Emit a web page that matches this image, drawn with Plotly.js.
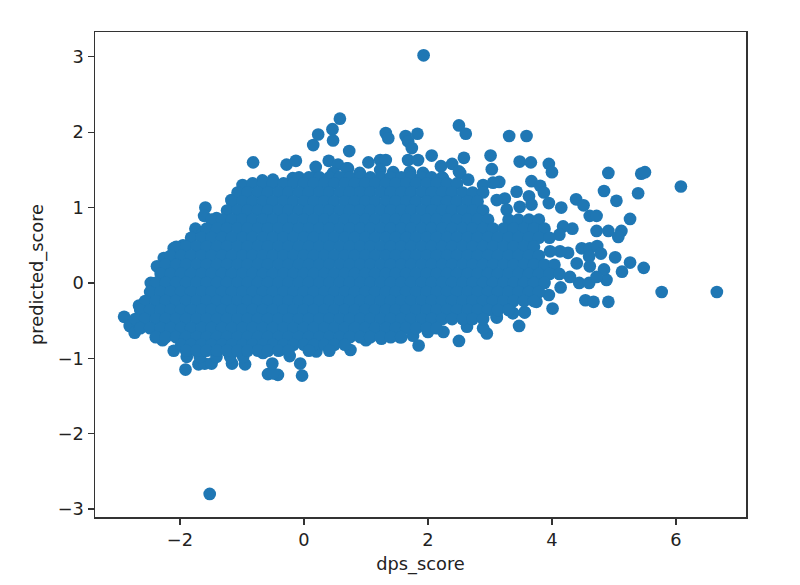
<!DOCTYPE html>
<html>
<head>
<meta charset="utf-8">
<script src="https://cdn.plot.ly/plotly-3.0.1.min.js"></script>
<style>html,body{margin:0;padding:0;background:#fff}#chart{width:800px;height:585px}</style>
</head>
<body>
<div id="chart"></div>
<script>
const xTicks = [-2,0,2,4,6];
const yTicks = [-3,-2,-1,0,1,2,3];

// Points that can be told apart around the edge of the cloud
const edgeDps = [1.93,-1.52,3.31,3.59,3.01,3.03,3.48,3.66,3.95,4.00,4.91,5.44,5.50,6.08,4.84,5.39,5.04,4.39,4.51,4.15,4.61,4.72,5.26,4.72,4.91,5.12,5.07,4.33,4.18,4.12,3.67,3.81,3.87,3.95,4.48,4.61,4.73,4.79,5.02,5.26,5.48,5.13,4.88,4.84,4.60,4.26,4.13,3.97,4.44,4.60,4.14,4.40,4.61,4.29,4.72,5.77,6.66,4.54,4.67,4.91,4.01,3.47,2.95,3.56,3.37,3.95,3.75,3.11,
0.58,0.46,0.23,0.15,0.47,0.73,1.32,1.36,1.64,1.83,1.68,1.74,2.50,2.61,2.06,2.58,-0.28,-0.13,0.19,0.40,1.04,1.23,1.32,1.68,1.84,2.21,2.39,2.50,0.55,0.71,3.15,3.24,3.43,3.63,2.89,3.05,3.11,3.27,3.48,3.67,
-0.82,-1.59,-1.61,-1.75,-0.99,-0.67,-2.10,-1.95,-2.26,-2.37,-2.47,-2.66,-2.90,-2.81,-2.73,-2.28,-2.10,-1.91,-1.70,-1.60,-1.49,-1.16,-0.95,-0.58,-0.42,-0.50,-0.03,-0.06,-0.51,-0.23,0.20,0.75,1.85,2.50,-1.89,-1.41,-0.98,-0.66,-1.68,-1.19,-0.39,
-1.17,-1.41,-1.63,-0.18,-0.50,0.20,0.47,0.69,1.23,1.44,0.90,1.71,1.92,2.24,2.52,2.65,0.15,-0.18,
2.00,2.25,2.63,2.89,3.11,3.37,3.56,1.00,1.25,1.55,1.76];
const edgePredicted = [3.02,-2.80,1.95,1.95,1.69,1.51,1.61,1.60,1.58,1.47,1.46,1.45,1.47,1.28,1.22,1.19,1.09,1.11,1.03,1.00,0.89,0.89,0.85,0.69,0.69,0.69,0.61,0.72,0.75,0.64,1.35,1.29,1.20,1.06,0.46,0.46,0.49,0.39,0.34,0.27,0.20,0.15,0.04,0.18,0.35,0.40,0.42,0.42,0.00,0.00,-0.06,0.26,0.22,0.08,0.08,-0.12,-0.12,-0.23,-0.25,-0.25,-0.34,-0.57,-0.67,-0.39,-0.40,-0.16,-0.25,-0.45,
2.18,2.04,1.97,1.83,1.89,1.75,1.99,1.92,1.95,1.98,1.88,1.79,2.09,1.98,1.69,1.66,1.57,1.62,1.54,1.62,1.60,1.63,1.63,1.63,1.63,1.55,1.58,1.48,1.57,1.52,1.34,1.12,1.21,1.15,1.30,1.33,1.10,0.97,1.01,1.04,
1.60,1.00,0.89,0.72,1.30,1.36,0.46,0.50,0.33,0.22,0.00,-0.30,-0.45,-0.57,-0.66,-0.76,-0.90,-1.15,-1.08,-1.07,-1.07,-1.07,-1.08,-1.21,-1.22,-1.20,-1.23,-1.07,-1.07,-0.97,-0.91,-0.89,-0.83,-0.77,-0.98,-0.98,-0.98,-0.93,-0.98,-0.98,-0.89,
1.10,0.86,0.66,1.37,1.37,1.37,1.46,1.52,1.50,1.47,1.46,1.47,1.46,1.39,1.46,1.37,1.39,1.39,
-0.65,-0.65,-0.58,-0.60,-0.46,-0.40,-0.39,-0.76,-0.74,-0.72,-0.70];

// Overlapping points inside the solid cloud, estimated band by band
const bandPredicted = [1.40,1.32,1.20,1.08,0.96,0.84,0.72,0.60,0.48,0.36,0.24,0.12,0,-0.12,-0.24,-0.36,-0.48,-0.60,-0.72,-0.82,-0.90];
const band00 = [-0.08,0.08,0.25,0.41,0.58,0.74,0.91,1.07,1.24,1.40,1.57,1.73,1.90,2.06,2.23];
const band01 = [-0.83,-0.66,-0.50,-0.33,-0.17,0,0.16,0.33,0.49,0.66,0.82,0.99,1.15,1.32,1.48,1.65,1.81,1.98,2.14,2.31,2.47];
const band02 = [-1.07,-0.91,-0.74,-0.58,-0.41,-0.25,-0.08,0.08,0.25,0.41,0.58,0.74,0.91,1.07,1.24,1.40,1.57,1.73,1.90,2.06,2.23,2.39,2.56,2.72,2.89];
const band03 = [-1.16,-0.99,-0.83,-0.66,-0.50,-0.33,-0.17,0,0.16,0.33,0.49,0.66,0.82,0.99,1.15,1.32,1.48,1.65,1.81,1.98,2.14,2.31,2.47,2.64,2.80];
const band04 = [-1.24,-1.07,-0.91,-0.74,-0.58,-0.41,-0.25,-0.08,0.08,0.25,0.41,0.58,0.74,0.91,1.07,1.24,1.40,1.57,1.73,1.90,2.06,2.23,2.39,2.56,2.72,2.89];
const band05 = [-1.49,-1.32,-1.16,-0.99,-0.83,-0.66,-0.50,-0.33,-0.17,0,0.16,0.33,0.49,0.66,0.82,0.99,1.15,1.32,1.48,1.65,1.81,1.98,2.14,2.31,2.47,2.64,2.80,2.97,3.30,3.46,3.63,3.79];
const band06 = [-1.57,-1.40,-1.24,-1.07,-0.91,-0.74,-0.58,-0.41,-0.25,-0.08,0.08,0.25,0.41,0.58,0.74,0.91,1.07,1.24,1.40,1.57,1.73,1.90,2.06,2.23,2.39,2.56,2.72,2.89,3.05,3.22,3.38,3.55,3.71,3.88];
const band07 = [-1.82,-1.65,-1.49,-1.32,-1.16,-0.99,-0.83,-0.66,-0.50,-0.33,-0.17,0,0.16,0.33,0.49,0.66,0.82,0.99,1.15,1.32,1.48,1.65,1.81,1.98,2.14,2.31,2.47,2.64,2.80,2.97,3.13,3.30,3.46,3.63,3.79,3.96];
const band08 = [-2.06,-1.90,-1.73,-1.57,-1.40,-1.24,-1.07,-0.91,-0.74,-0.58,-0.41,-0.25,-0.08,0.08,0.25,0.41,0.58,0.74,0.91,1.07,1.24,1.40,1.57,1.73,1.90,2.06,2.23,2.39,2.56,2.72,2.89,3.05,3.22,3.38,3.55,3.71];
const band09 = [-2.15,-1.98,-1.82,-1.65,-1.49,-1.32,-1.16,-0.99,-0.83,-0.66,-0.50,-0.33,-0.17,0,0.16,0.33,0.49,0.66,0.82,0.99,1.15,1.32,1.48,1.65,1.81,1.98,2.14,2.31,2.47,2.64,2.80,2.97,3.13,3.30,3.46,3.63,3.79];
const band10 = [-2.23,-2.06,-1.90,-1.73,-1.57,-1.40,-1.24,-1.07,-0.91,-0.74,-0.58,-0.41,-0.25,-0.08,0.08,0.25,0.41,0.58,0.74,0.91,1.07,1.24,1.40,1.57,1.73,1.90,2.06,2.23,2.39,2.56,2.72,2.89,3.05,3.22,3.38,3.55,3.71,3.88,4.04];
const band11 = [-2.31,-2.15,-1.98,-1.82,-1.65,-1.49,-1.32,-1.16,-0.99,-0.83,-0.66,-0.50,-0.33,-0.17,0,0.16,0.33,0.49,0.66,0.82,0.99,1.15,1.32,1.48,1.65,1.81,1.98,2.14,2.31,2.47,2.64,2.80,2.97,3.13,3.30,3.46,3.63,3.79,3.96,4.12];
const band12 = [-2.39,-2.23,-2.06,-1.90,-1.73,-1.57,-1.40,-1.24,-1.07,-0.91,-0.74,-0.58,-0.41,-0.25,-0.08,0.08,0.25,0.41,0.58,0.74,0.91,1.07,1.24,1.40,1.57,1.73,1.90,2.06,2.23,2.39,2.56,2.72,2.89,3.05,3.22,3.38,3.55,3.71,3.88];
const band13 = [-2.48,-2.31,-2.15,-1.98,-1.82,-1.65,-1.49,-1.32,-1.16,-0.99,-0.83,-0.66,-0.50,-0.33,-0.17,0,0.16,0.33,0.49,0.66,0.82,0.99,1.15,1.32,1.48,1.65,1.81,1.98,2.14,2.31,2.47,2.64,2.80,2.97,3.13,3.30,3.46,3.63,3.79];
const band14 = [-2.56,-2.39,-2.23,-2.06,-1.90,-1.73,-1.57,-1.40,-1.24,-1.07,-0.91,-0.74,-0.58,-0.41,-0.25,-0.08,0.08,0.25,0.41,0.58,0.74,0.91,1.07,1.24,1.40,1.57,1.73,1.90,2.06,2.23,2.39,2.56,2.72,2.89,3.05,3.22,3.38,3.55,3.71];
const band15 = [-2.64,-2.48,-2.31,-2.15,-1.98,-1.82,-1.65,-1.49,-1.32,-1.16,-0.99,-0.83,-0.66,-0.50,-0.33,-0.17,0,0.16,0.33,0.49,0.66,0.82,0.99,1.15,1.32,1.48,1.65,1.81,1.98,2.14,2.31,2.47,2.64,2.80,2.97,3.13,3.30];
const band16 = [-2.72,-2.56,-2.39,-2.23,-2.06,-1.90,-1.73,-1.57,-1.40,-1.24,-1.07,-0.91,-0.74,-0.58,-0.41,-0.25,-0.08,0.08,0.25,0.41,0.58,0.74,0.91,1.07,1.24,1.40,1.57,1.73,1.90,2.06,2.23,2.39,2.56,2.72,2.89];
const band17 = [-2.64,-2.48,-2.31,-2.15,-1.98,-1.82,-1.65,-1.49,-1.32,-1.16,-0.99,-0.83,-0.66,-0.50,-0.33,-0.17,0,0.16,0.33,0.49,0.66,0.82,0.99,1.15,1.32,1.48,1.65,1.81,1.98,2.14];
const band18 = [-2.39,-2.23,-2.06,-1.90,-1.73,-1.57,-1.40,-1.24,-1.07,-0.91,-0.74,-0.58,-0.41,-0.25,-0.08,0.08,0.25,0.41,0.58,0.74,0.91,1.07,1.24,1.40,1.57];
const band19 = [-1.98,-1.82,-1.65,-1.49,-1.32,-1.16,-0.99,-0.83,-0.66,-0.50,-0.33,-0.17,0,0.16,0.33,0.49,0.66];
const band20 = [-1.90,-1.73,-1.57,-1.40,-1.24,-1.07,-0.91,-0.74,-0.58,-0.41,-0.25,0.08,0.41];
const bands = [band00,band01,band02,band03,band04,band05,band06,band07,band08,band09,band10,band11,band12,band13,band14,band15,band16,band17,band18,band19,band20];

const dps = edgeDps.slice();
const predicted = edgePredicted.slice();
bands.forEach((band, i) => band.forEach(v => { dps.push(v); predicted.push(bandPredicted[i]); }));

const textFont = {family: '"DejaVu Sans", sans-serif', size: 17.8, color: '#222222'};
const axisBase = {
  showgrid: false, zeroline: false, showline: true, mirror: true,
  linecolor: '#333333', linewidth: 1.5,
  ticks: 'outside', ticklen: 6, tickwidth: 1.2, tickcolor: '#333333',
  tickfont: textFont, tickmode: 'array'
};

Plotly.newPlot('chart', [{
  type: 'scatter', mode: 'markers', x: dps, y: predicted,
  marker: {color: '#1f77b4', size: 12.7, line: {width: 0}},
  hoverinfo: 'skip'
}], {
  width: 800, height: 585,
  margin: {l: 95, r: 54, t: 32, b: 68, pad: 0},
  paper_bgcolor: '#ffffff', plot_bgcolor: '#ffffff',
  showlegend: false,
  xaxis: Object.assign({}, axisBase, {
    range: [-3.37, 7.13], tickvals: xTicks,
    title: {text: 'dps_score', font: textFont, standoff: 8}
  }),
  yaxis: Object.assign({}, axisBase, {
    range: [-3.106, 3.33], tickvals: yTicks,
    title: {text: 'predicted_score', font: textFont, standoff: 9}
  })
}, {displayModeBar: false, staticPlot: true});
</script>
</body>
</html>
